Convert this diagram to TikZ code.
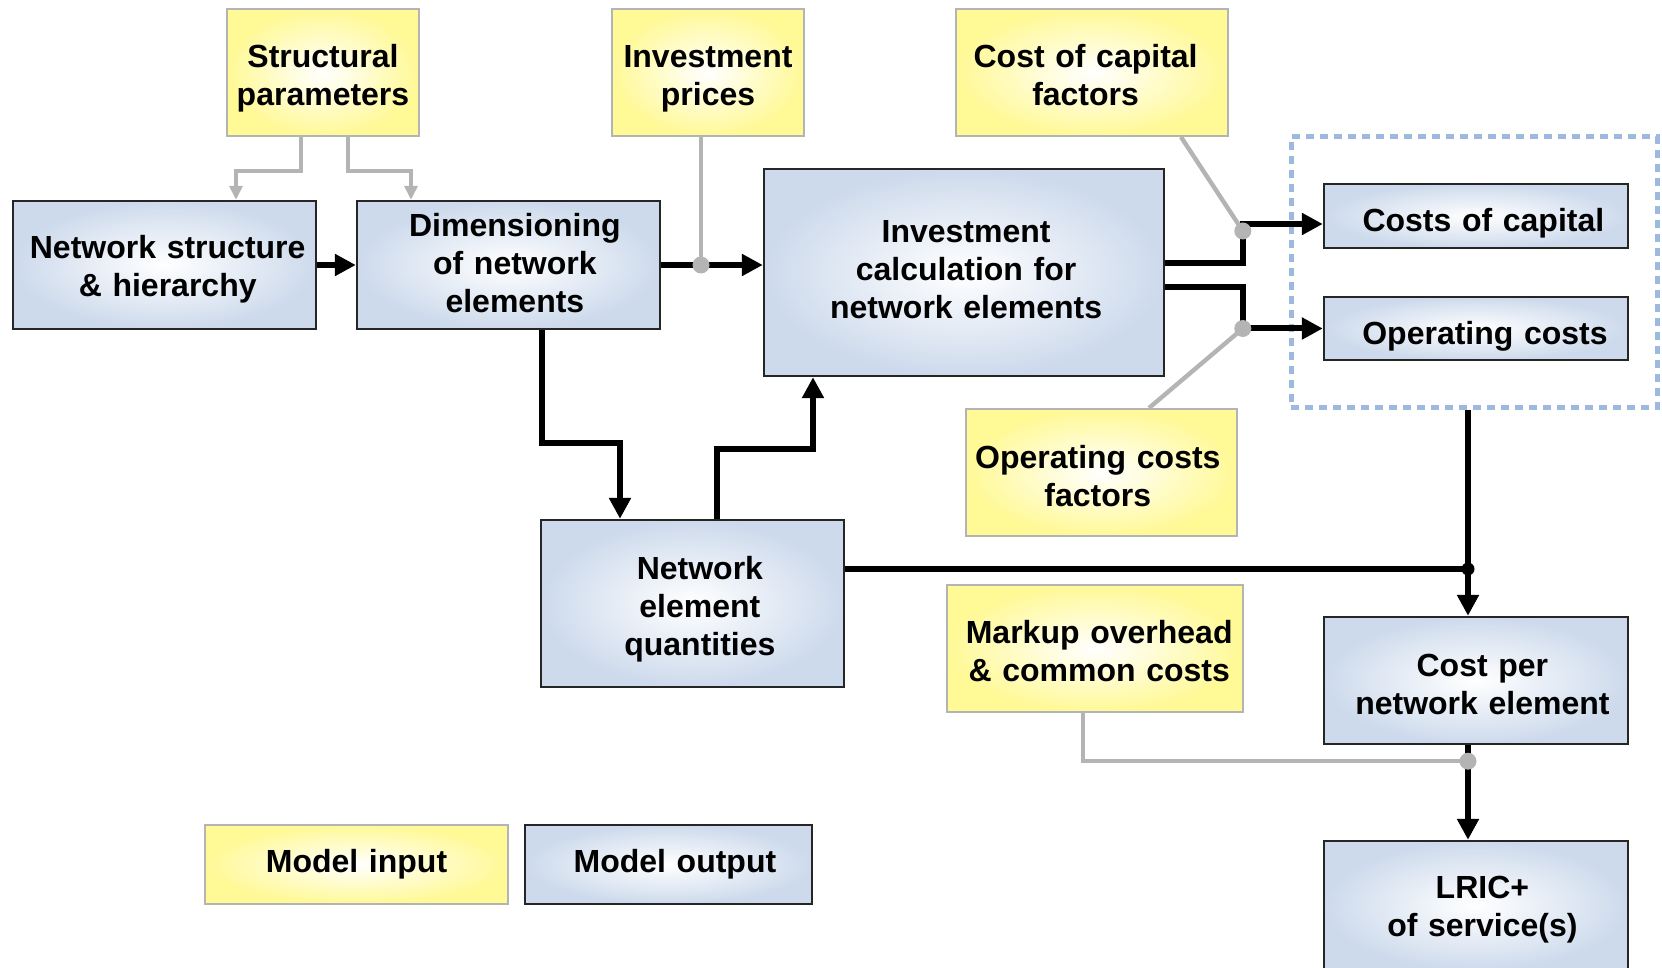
\documentclass[tikz,border=0pt]{standalone}
\usepackage{fontspec}
\setmainfont{Liberation Sans}
\usetikzlibrary{arrows.meta}
\definecolor{inyel}{RGB}{255,249,150}
\definecolor{outblu}{RGB}{205,218,236}
\definecolor{lnkgray}{RGB}{180,180,180}
\definecolor{dashblu}{RGB}{158,184,224}
\begin{document}
\begin{tikzpicture}[x=0.5pt,y=-0.5pt,
		box/.style={align=center,inner sep=0pt,font=\fontsize{16}{19}\selectfont\bfseries,inner color=white},
		inbox/.style={box,draw=lnkgray,line width=1pt,outer color=inyel},
		outbx/.style={box,draw=black!85,line width=1.2pt,outer color=outblu},
		wh/.style 2 args={minimum width=#1pt/2,text width=#1pt/2,minimum height=#2pt/2},
		txt/.style n args={3}{execute at begin node={\advance\leftskip by #1pt\rule{0pt}{#2pt}},
			execute at end node={\rule[-#3pt]{0pt}{#3pt}}},
		flow/.style={line width=3pt,-{Triangle[length=10.5pt,width=10.5pt]}},
		feed/.style={lnkgray,line width=2.2pt},
		jdot/.style={circle,fill=#1,inner sep=0pt}]
	\useasboundingbox (0,0) rectangle (1662,968);
	\node[draw=dashblu,line width=2.5pt,dash pattern=on 4pt off 3pt,minimum width=183pt,minimum height=135.5pt] (costs) at (1474,272.5) {};
	\node[inbox,wh={192}{127},txt={0}{17}{0}] (sp) at (323,72.5) {Structural\\parameters};
	\node[inbox,wh={192}{127},txt={0}{17}{0}] (ip) at (708,72.5) {Investment\\prices};
	\node[inbox,wh={272}{127},txt={-6.4}{13.8}{0}] (ccf) at (1092,72.5) {Cost of capital\\factors};
	\node[outbx,wh={303}{128},txt={3.2}{15.9}{0}] (ns) at (164.5,265) {Network structure\\\& hierarchy};
	\node[outbx,wh={303}{128},txt={6.4}{0}{2.3}] (dim) at (508.5,265) {Dimensioning\\of network\\elements};
	\node[outbx,wh={400}{207},txt={2.1}{0}{3.4}] (inv) at (964,272.5) {Investment\\calculation for\\network elements};
	\node[outbx,wh={304}{64},txt={7.4}{19.1}{0}] (coc) at (1476,216) {Costs of capital};
	\node[outbx,wh={304}{63},txt={9}{19.1}{0}] (opc) at (1476,328.5) {Operating costs};
	\node[inbox,wh={271}{127},txt={-3.7}{14.9}{0}] (ocf) at (1101.5,472.5) {Operating costs\\factors};
	\node[outbx,wh={303}{167},txt={7.4}{17}{0}] (neq) at (692.5,603.5) {Network\\element\\quantities};
	\node[inbox,wh={296}{127},txt={4.2}{13.8}{0}] (mk) at (1095,648.5) {Markup overhead\\\& common costs};
	\node[outbx,wh={304}{127},txt={6.4}{14.9}{0}] (cpn) at (1476,680.5) {Cost per\\network element};
	\node[outbx,wh={304}{130},txt={6.4}{14.9}{0}] (lric) at (1476,906) {LRIC+\\of service(s)};
	\node[inbox,wh={303}{79}] (mi) at (356.5,864.5) {Model input};
	\node[outbx,wh={287}{79},txt={6.4}{0}{0}] (mo) at (668.5,864.5) {Model output};
	\coordinate (vx) at ([xshift=-4pt]cpn.north);
	\coordinate (pj) at (701,265);
	\coordinate (cj) at ([xshift=-40pt,yshift=-7.5pt]coc.west);
	\coordinate (oj) at ([xshift=-40pt]opc.west);
	\coordinate (qj) at ([yshift=17.25pt]neq.east -| vx);
	\coordinate (mj) at ([yshift=-8pt]vx |- cpn.south);
	\draw[feed,-{Triangle[length=7pt,width=6.5pt]}] ([xshift=-11pt]sp.south) -- ++(0,34) -| ([xshift=35.75pt]ns.north);
	\draw[feed,-{Triangle[length=7pt,width=6.5pt]}] ([xshift=12.5pt]sp.south) -- ++(0,34) -| ([xshift=-48.75pt]dim.north);
	\draw[flow] (ns.east) -- (dim.west);
	\draw[flow] (dim.east) -- (inv.west |- dim.east);
	\draw[flow] ([yshift=4.75pt]inv.east) -| ([xshift=-40pt,yshift=-4pt]coc.west) -- ([yshift=-4pt]coc.west);
	\draw[flow] ([yshift=-7.25pt]inv.east) -| (oj) -- (opc.west);
	\draw[flow] ([xshift=16.5pt]dim.south) -- ++(0,113) -| ([xshift=-36.25pt]neq.north);
	\draw[flow] ([xshift=12.25pt]neq.north) -- ++(0,-70) -| ([xshift=-75.5pt]inv.south);
	\draw[flow] (vx |- costs.south) -- (vx |- cpn.north);
	\draw[line width=3pt] (neq.east |- qj) -- (qj);
	\draw[flow] (vx |- cpn.south) -- (vx |- lric.north);
	\draw[feed] (ip.south -| pj) -- (pj);
	\draw[feed] ([xshift=-24pt]ccf.south east) -- (cj);
	\draw[feed] ([xshift=-44.5pt]ocf.north east) -- (oj);
	\draw[feed] ([xshift=-6pt]mk.south) |- (mj);
	\foreach \j in {pj,cj,oj,mj}
		\node[jdot=lnkgray,minimum size=8.5pt] at (\j) {};
	\node[jdot=black,minimum size=6.5pt] at (qj) {};
\end{tikzpicture}
\end{document}
